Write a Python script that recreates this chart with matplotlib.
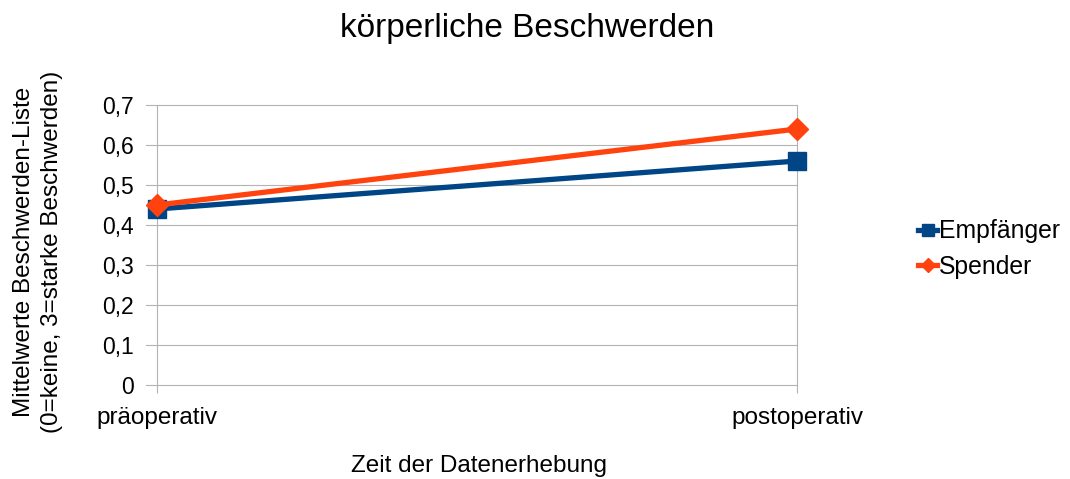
import matplotlib
matplotlib.use("Agg")
import matplotlib.pyplot as plt

# data
zeitpunkte = ["präoperativ", "postoperativ"]
empfaenger = [0.44, 0.56]
spender = [0.45, 0.64]
y_ticks = [0, 0.1, 0.2, 0.3, 0.4, 0.5, 0.6, 0.7]
y_labels = ["0", "0,1", "0,2", "0,3", "0,4", "0,5", "0,6", "0,7"]

plt.rcParams["font.family"] = ["Liberation Sans", "DejaVu Sans"]

W, H = 1070, 479
fig = plt.figure(figsize=(W / 100, H / 100), dpi=100)
fig.patch.set_facecolor("white")

# axes placed in pixel coordinates
left, right, top, bottom = 146, 797, 105, 385
ax = fig.add_axes([left / W, 1 - bottom / H, (right - left) / W, (bottom - top) / H])

x = list(range(len(zeitpunkte)))
ax.plot(x, empfaenger, color="#004586", lw=3.8, marker="s", ms=13,
        label="Empfänger", zorder=3, clip_on=False)
ax.plot(x, spender, color="#ff420e", lw=3.8, marker="D", ms=11,
        label="Spender", zorder=4, clip_on=False)

ax.set_xlim(-11 / 640, 1)
ax.set_ylim(0, 0.7)
ax.set_yticks(y_ticks)
ax.set_yticklabels(y_labels)
ax.set_xticks(x)
ax.set_xticklabels(zeitpunkte)

grid_c = "#b3b3b3"
ax.grid(True, color=grid_c, lw=0.8)
for gl in ax.get_xgridlines() + ax.get_ygridlines():
    gl.set_clip_on(False)
for s in ax.spines.values():
    s.set_visible(False)
ax.tick_params(axis="y", length=0, pad=9, labelsize=16.5)
ax.tick_params(axis="x", length=6, width=0.8, color=grid_c, pad=10, labelsize=17.5)
ax.set_axisbelow(True)

fig.text(527 / W, 1 - 28 / H, "körperliche Beschwerden", ha="center", va="center",
         fontsize=24)
fig.text(479 / W, 1 - 466 / H, "Zeit der Datenerhebung", ha="center", va="center",
         fontsize=17.5)
fig.text(38 / W, 1 - 252 / H,
         "Mittelwerte Beschwerden-Liste\n(0=keine, 3=starke Beschwerden)",
         rotation=90, ha="center", va="center", multialignment="center",
         fontsize=17.5, linespacing=1.3)

fig.legend(loc="center left", bbox_to_anchor=(906 / W, 1 - 249 / H), frameon=False,
           fontsize=17.8, handlelength=0.75, handletextpad=0.1, markerscale=0.65,
           labelspacing=0.45, borderpad=0)

fig.savefig("out.png", dpi=100)
